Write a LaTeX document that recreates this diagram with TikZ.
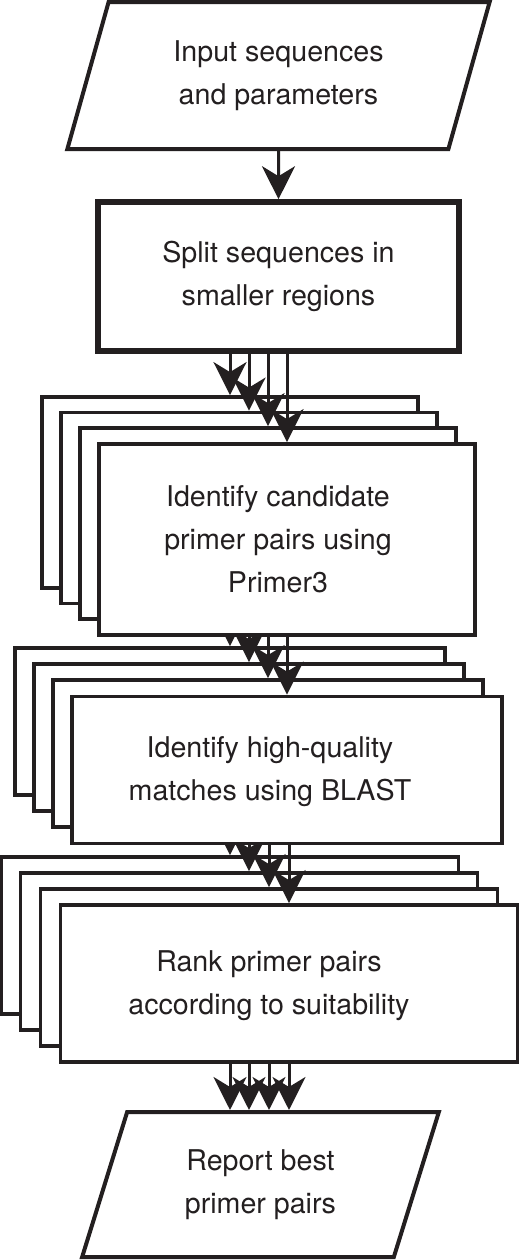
\documentclass[tikz,border=0pt]{standalone}
\usepackage{fontspec}
\setmainfont{TeX Gyre Heros}
\usepackage{tikz}
\usetikzlibrary{shapes,arrows.meta}
\definecolor{ink}{RGB}{35,31,32}
\pgfdeclarelayer{back}
\pgfdeclarelayer{links}
\pgfsetlayers{back,links,main}
\tikzset{
	io/.style      = {draw=ink, line width=2pt, fill=white, text=ink, align=center,
		trapezium, trapezium left angle=70, trapezium right angle=110,
		trapezium stretches=true, inner sep=0pt},
	split/.style   = {draw=ink, line width=2.8pt, fill=white, text=ink, align=center,
		rectangle, inner sep=0pt, minimum width=180.5pt, minimum height=74.5pt},
	layer/.style   = {draw=ink, line width=1.9pt, fill=white, rectangle, inner sep=0pt},
	first/.style   = {layer, minimum width=188pt, minimum height=95.5pt},
	second/.style  = {layer, minimum width=215pt, minimum height=73.5pt},
	third/.style   = {layer, minimum width=228.5pt, minimum height=78.5pt},
	caption/.style = {text=ink, align=center, inner sep=0pt}, % Text on a stack
	link/.style    = {draw=ink, line width=1.5pt} % Arrow
}
\newcommand{\textsize}{\fontsize{14.3}{21.5}\selectfont}

\begin{document}
\begin{tikzpicture}[x=0.5pt, y=-0.5pt, font=\textsize,
	>={Stealth[length=16.5pt, width=16.5pt, inset=5pt]}]
	\useasboundingbox (0,0) rectangle (520,1260);
	% Back layers of the three stacks
	\begin{pgfonlayer}{back}
	\draw
	node at (230,492.5) [first] (p1) {}
	node at (249,508) [first] (p2) {}
	node at (268,523.5) [first] (p3) {}
	node at (230,721.5) [second] (b1) {}
	node at (249,737.5) [second] (b2) {}
	node at (268,753.5) [second] (b3) {}
	node at (230,935.5) [third] (r1) {}
	node at (249,951.5) [third] (r2) {}
	node at (269,967.5) [third] (r3) {}
	;
	\end{pgfonlayer}

	% Drawing the blocks
	\draw
	node at (278.5,75.5) [io, minimum width=211.5pt, minimum height=73.5pt] (in) {Input sequences\\and parameters}
	node at (278.5,276.5) [split] (sp) {Split sequences in\\smaller regions}
	node at (287,539.5) [first] (p4) {}
	node at (278,539) [caption] (tp) {Identify candidate\\primer pairs using\\Primer3}
	node at (287,770) [second] (b4) {}
	node at (270,772) [caption] (tb) {Identify high-quality\\matches using BLAST}
	node at (289,983.5) [third] (r4) {}
	node at (269,986) [caption] (tr) {Rank primer pairs\\according to suitability}
	node at (260.5,1184.5) [io, minimum width=178.5pt, minimum height=72.5pt] (out) {Report best\\primer pairs}
	;

	\begin{pgfonlayer}{links}
	\draw[link, ->](in) -- (sp);
	\draw[link, ->](sp.south -| p1.north) -- (p1.north);
	\draw[link, ->](sp.south -| p2.north) -- (p2.north);
	\draw[link, ->](sp.south -| p3.north) -- (p3.north);
	\draw[link, ->](sp.south -| p4.north) -- (p4.north);
	\draw[link, ->](p4.south -| b1.north) -- (b1.north);
	\draw[link, ->](p4.south -| b2.north) -- (b2.north);
	\draw[link, ->](p4.south -| b3.north) -- (b3.north);
	\draw[link, ->](p4.south -| b4.north) -- (b4.north);
	\draw[link, ->](b4.south -| r1.north) -- (r1.north);
	\draw[link, ->](b4.south -| r2.north) -- (r2.north);
	\draw[link, ->](b4.south -| r3.north) -- (r3.north);
	\draw[link, ->](b4.south -| r4.north) -- (r4.north);
	\draw[link, ->](r4.south -| r1.north) -- (r1.north |- out.north);
	\draw[link, ->](r4.south -| r2.north) -- (r2.north |- out.north);
	\draw[link, ->](r4.south -| r3.north) -- (r3.north |- out.north);
	\draw[link, ->](r4.south -| r4.north) -- (r4.north |- out.north);
	\end{pgfonlayer}
\end{tikzpicture}
\end{document}
